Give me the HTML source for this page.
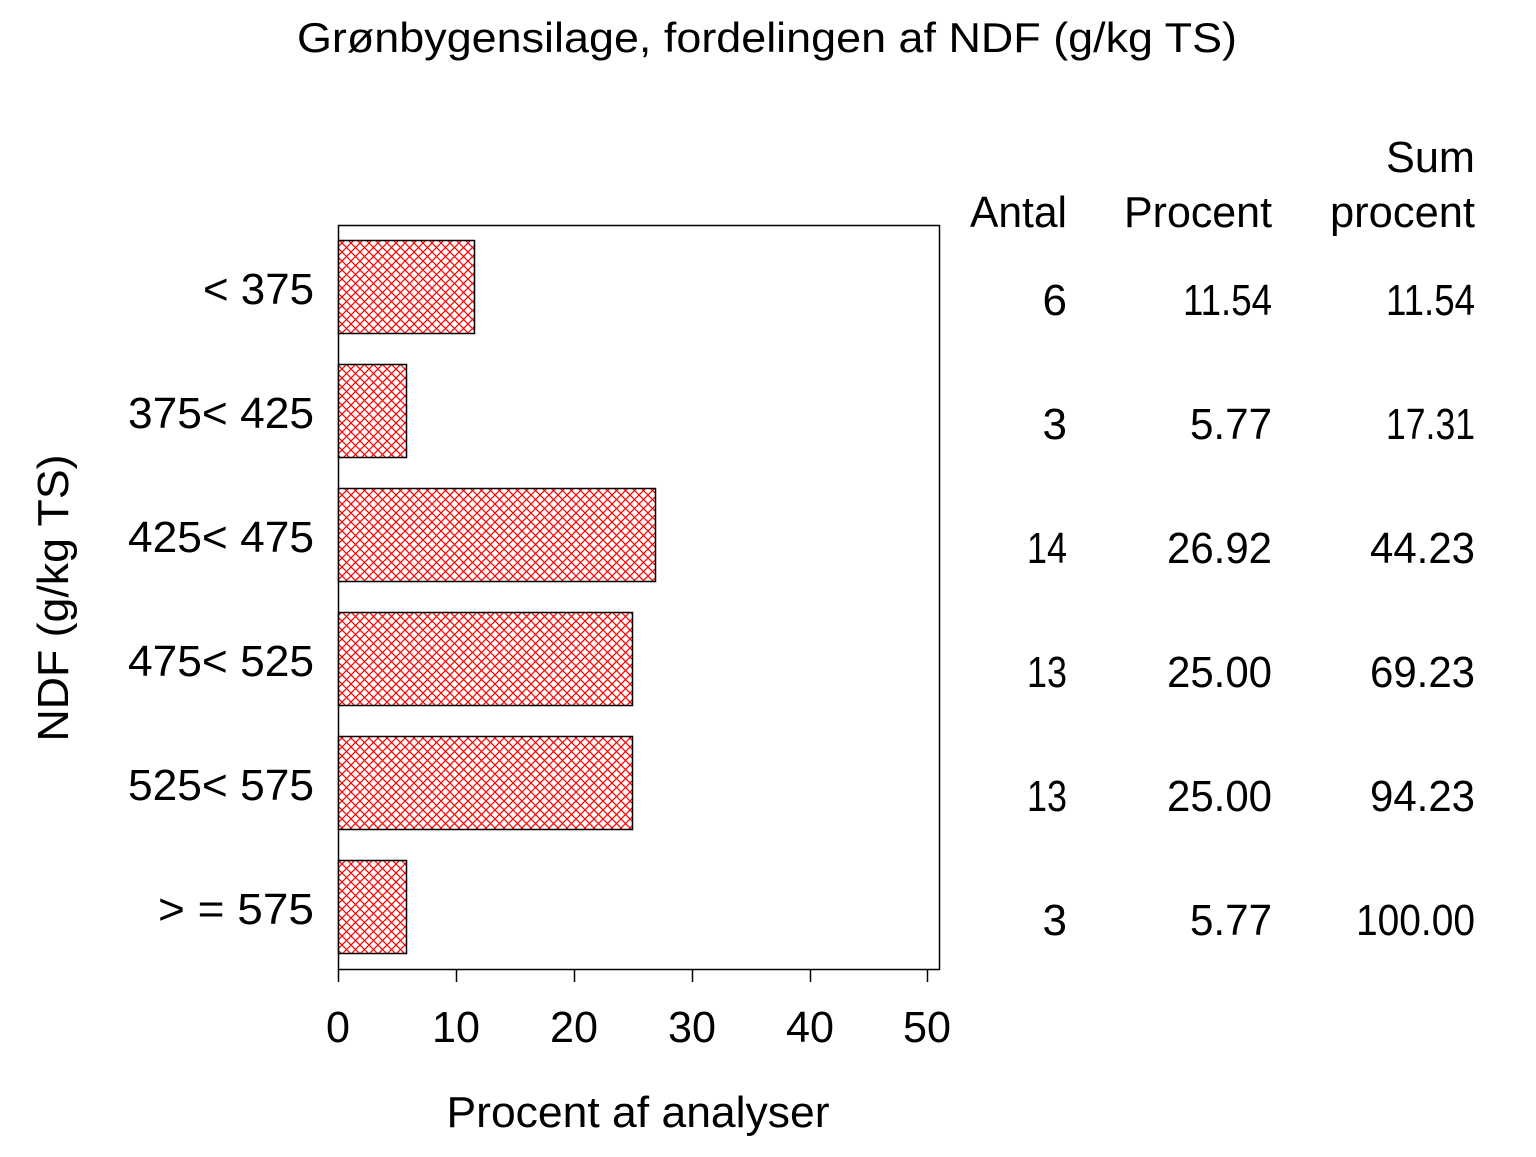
<!DOCTYPE html>
<html><head><style>body{margin:0;background:#fff}</style></head><body>
<svg width="1536" height="1152" xmlns="http://www.w3.org/2000/svg" font-family="Liberation Sans, sans-serif" fill="#000">
<defs>
<pattern id="h" width="9" height="9" patternUnits="userSpaceOnUse">
<rect width="9" height="9" fill="#fff"/>
<path d="M0,0L9,9M9,0L0,9" stroke="#f00" stroke-width="1.2"/>
</pattern>
</defs>
<g font-size="42" lengthAdjust="spacingAndGlyphs">
<text x="297" y="52" textLength="940" lengthAdjust="spacingAndGlyphs">Grønbygensilage,  fordelingen  af  NDF  (g/kg  TS)</text>
</g>
<rect x="338.5" y="225.5" width="601" height="744" fill="none" stroke="#000" stroke-width="1.5"/>
<g stroke="#000" stroke-width="1.5" fill="url(#h)">
<rect x="338.5" y="240.5" width="136" height="93"/>
<rect x="338.5" y="364.5" width="68" height="93"/>
<rect x="338.5" y="488.5" width="317" height="93"/>
<rect x="338.5" y="612.5" width="294" height="93"/>
<rect x="338.5" y="736.5" width="294" height="93"/>
<rect x="338.5" y="860.5" width="68" height="93"/>
</g>
<g stroke="#000" stroke-width="1.5">
<line x1="338.5" y1="969" x2="338.5" y2="982"/><line x1="456.5" y1="969" x2="456.5" y2="982"/>
<line x1="574.5" y1="969" x2="574.5" y2="982"/><line x1="692.5" y1="969" x2="692.5" y2="982"/>
<line x1="810.5" y1="969" x2="810.5" y2="982"/><line x1="927.5" y1="969" x2="927.5" y2="982"/>
</g>
<g font-size="44" text-anchor="middle">
<text x="338" y="1042" textLength="24" lengthAdjust="spacingAndGlyphs">0</text>
<text x="456" y="1042" textLength="48" lengthAdjust="spacingAndGlyphs">10</text>
<text x="574" y="1042" textLength="48" lengthAdjust="spacingAndGlyphs">20</text>
<text x="692" y="1042" textLength="48" lengthAdjust="spacingAndGlyphs">30</text>
<text x="810" y="1042" textLength="48" lengthAdjust="spacingAndGlyphs">40</text>
<text x="927" y="1042" textLength="48" lengthAdjust="spacingAndGlyphs">50</text>
<text x="638" y="1127" textLength="383" lengthAdjust="spacingAndGlyphs">Procent  af  analyser</text>
</g>
<g font-size="44" text-anchor="end">
<text x="314" y="304" textLength="111" lengthAdjust="spacingAndGlyphs">&lt; 375</text>
<text x="314" y="428" textLength="186" lengthAdjust="spacingAndGlyphs">375&lt; 425</text>
<text x="314" y="552" textLength="186" lengthAdjust="spacingAndGlyphs">425&lt; 475</text>
<text x="314" y="676" textLength="186" lengthAdjust="spacingAndGlyphs">475&lt; 525</text>
<text x="314" y="800" textLength="186" lengthAdjust="spacingAndGlyphs">525&lt; 575</text>
<text x="314" y="924" textLength="156" lengthAdjust="spacingAndGlyphs">&gt; = 575</text>
</g>
<text transform="translate(68,598) rotate(-90)" font-size="44" text-anchor="middle" textLength="287" lengthAdjust="spacingAndGlyphs">NDF  (g/kg  TS)</text>
<g font-size="44" text-anchor="end">
<text x="1475" y="172" textLength="89" lengthAdjust="spacingAndGlyphs">Sum</text>
<text x="1067" y="227" textLength="97" lengthAdjust="spacingAndGlyphs">Antal</text>
<text x="1272" y="227" textLength="148" lengthAdjust="spacingAndGlyphs">Procent</text>
<text x="1475" y="227" textLength="145" lengthAdjust="spacingAndGlyphs">procent</text>
<text x="1067" y="315">6</text><text x="1272" y="315" textLength="89" lengthAdjust="spacingAndGlyphs">11.54</text><text x="1475" y="315" textLength="89" lengthAdjust="spacingAndGlyphs">11.54</text>
<text x="1067" y="439">3</text><text x="1272" y="439" textLength="82" lengthAdjust="spacingAndGlyphs">5.77</text><text x="1475" y="439" textLength="89" lengthAdjust="spacingAndGlyphs">17.31</text>
<text x="1067" y="563" textLength="40" lengthAdjust="spacingAndGlyphs">14</text><text x="1272" y="563" textLength="105" lengthAdjust="spacingAndGlyphs">26.92</text><text x="1475" y="563" textLength="105" lengthAdjust="spacingAndGlyphs">44.23</text>
<text x="1067" y="687" textLength="40" lengthAdjust="spacingAndGlyphs">13</text><text x="1272" y="687" textLength="105" lengthAdjust="spacingAndGlyphs">25.00</text><text x="1475" y="687" textLength="105" lengthAdjust="spacingAndGlyphs">69.23</text>
<text x="1067" y="811" textLength="40" lengthAdjust="spacingAndGlyphs">13</text><text x="1272" y="811" textLength="105" lengthAdjust="spacingAndGlyphs">25.00</text><text x="1475" y="811" textLength="105" lengthAdjust="spacingAndGlyphs">94.23</text>
<text x="1067" y="935">3</text><text x="1272" y="935" textLength="82" lengthAdjust="spacingAndGlyphs">5.77</text><text x="1475" y="935" textLength="119" lengthAdjust="spacingAndGlyphs">100.00</text>
</g>
</svg>
</body></html>
